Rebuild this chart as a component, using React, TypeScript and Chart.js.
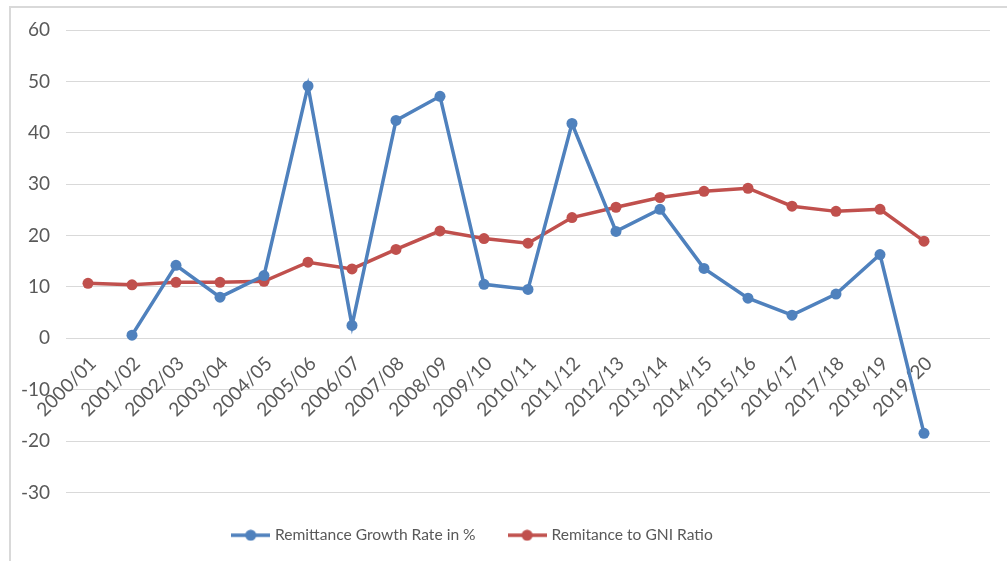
import React, { useEffect, useRef } from "react";
import { Chart, registerables } from "chart.js";

Chart.register(...registerables);

// Fiscal years; the trailing blank slot leaves room on the right of the plot
const YEARS = [
  "2000/01", "2001/02", "2002/03", "2003/04", "2004/05", "2005/06", "2006/07",
  "2007/08", "2008/09", "2009/10", "2010/11", "2011/12", "2012/13", "2013/14",
  "2014/15", "2015/16", "2016/17", "2017/18", "2018/19", "2019/20", "",
];

const GROWTH_RATE: (number | null)[] = [
  null, 0.6, 14.2, 8.0, 12.2, 49.1, 2.5, 42.4, 47.1, 10.5,
  9.5, 41.8, 20.8, 25.1, 13.6, 7.8, 4.5, 8.6, 16.3, -18.5,
];

const GNI_RATIO: number[] = [
  10.7, 10.4, 10.9, 10.9, 11.1, 14.8, 13.5, 17.3, 20.9, 19.4,
  18.5, 23.5, 25.5, 27.4, 28.6, 29.2, 25.7, 24.7, 25.1, 18.9,
];

const Y_MIN = -30;
const Y_MAX = 60;
const Y_STEP = 10;

const BLUE = "#4F81BD";
const RED = "#C0504D";
const TEXT = "#595959";
const GRID = "#D9D9D9";
const FONT = "Lato, 'Open Sans', sans-serif";

// Canvas is a bit wider than the page so the legend sits left of centre
const CANVAS_SHIFT = 43;
const CANVAS_W = 1007 + CANVAS_SHIFT;
const CANVAS_H = 561;

// Legend marker: a short line with a dot in the middle
function makeMarker(color: string): HTMLCanvasElement {
  const c = document.createElement("canvas");
  c.width = 39;
  c.height = 12;
  const g = c.getContext("2d")!;
  g.strokeStyle = color;
  g.lineWidth = 3.5;
  g.beginPath();
  g.moveTo(0, 6);
  g.lineTo(39, 6);
  g.stroke();
  g.fillStyle = color;
  g.beginPath();
  g.arc(19.5, 6, 5.5, 0, Math.PI * 2);
  g.fill();
  return c;
}

export default function App() {
  const ref = useRef<HTMLCanvasElement>(null);

  useEffect(() => {
    if (!ref.current) return;
    const blueMarker = makeMarker(BLUE);
    const redMarker = makeMarker(RED);

    const chart = new Chart(ref.current, {
      type: "line",
      data: {
        labels: YEARS,
        datasets: [
          {
            label: "Remittance Growth Rate in %",
            data: GROWTH_RATE,
            borderColor: BLUE,
            backgroundColor: BLUE,
            borderWidth: 3.5,
            pointRadius: 5.5,
            pointBorderWidth: 0,
            pointBackgroundColor: BLUE,
            pointStyle: "circle",
            tension: 0,
          },
          {
            label: "Remitance to GNI Ratio",
            data: GNI_RATIO,
            borderColor: RED,
            backgroundColor: RED,
            borderWidth: 3.5,
            pointRadius: 5.5,
            pointBorderWidth: 0,
            pointBackgroundColor: RED,
            pointStyle: "circle",
            tension: 0,
          },
        ],
      },
      options: {
        animation: false,
        responsive: false,
        maintainAspectRatio: false,
        layout: { padding: { left: 0, right: 17, top: 30, bottom: 8 } },
        plugins: {
          tooltip: { enabled: false },
          legend: {
            position: "bottom",
            labels: {
              usePointStyle: true,
              pointStyleWidth: 33,
              padding: 35,
              color: TEXT,
              font: { family: FONT, size: 15.6 },
              generateLabels: (ch) =>
                ch.data.datasets.map((ds, i) => ({
                  text: ds.label as string,
                  pointStyle: i === 0 ? blueMarker : redMarker,
                  fillStyle: "transparent",
                  strokeStyle: "transparent",
                  lineWidth: 0,
                  fontColor: TEXT,
                  hidden: false,
                  datasetIndex: i,
                })),
            },
          },
        },
        scales: {
          x: {
            type: "category",
            offset: true,
            position: { y: 0 },
            grid: { display: false },
            border: { display: false },
            ticks: {
              autoSkip: false,
              maxRotation: 45,
              minRotation: 45,
              padding: 6,
              labelOffset: 5,
              color: TEXT,
              font: { family: FONT, size: 19 },
            },
            afterFit: (s: any) => {
              s.height = 0;
            },
          },
          y: {
            min: Y_MIN,
            max: Y_MAX,
            grid: { color: GRID, lineWidth: 1, drawTicks: false },
            border: { display: false },
            ticks: {
              stepSize: Y_STEP,
              padding: 16,
              color: TEXT,
              font: { family: FONT, size: 19 },
            },
            afterFit: (s: any) => {
              s.width = 66 + CANVAS_SHIFT;
            },
          },
        },
      },
    });
    return () => chart.destroy();
  }, []);

  return (
    <div
      style={{
        position: "fixed",
        left: 0,
        top: 0,
        width: 1007,
        height: 561,
        background: "#fff",
        overflow: "hidden",
      }}
    >
      <div
        style={{
          position: "absolute",
          left: 9,
          top: 6,
          width: 1100,
          height: 700,
          border: "2px solid #D9D9D9",
          boxSizing: "border-box",
        }}
      />
      <canvas
        ref={ref}
        width={CANVAS_W}
        height={CANVAS_H}
        style={{ position: "absolute", left: -CANVAS_SHIFT, top: 0 }}
      />
    </div>
  );
}
